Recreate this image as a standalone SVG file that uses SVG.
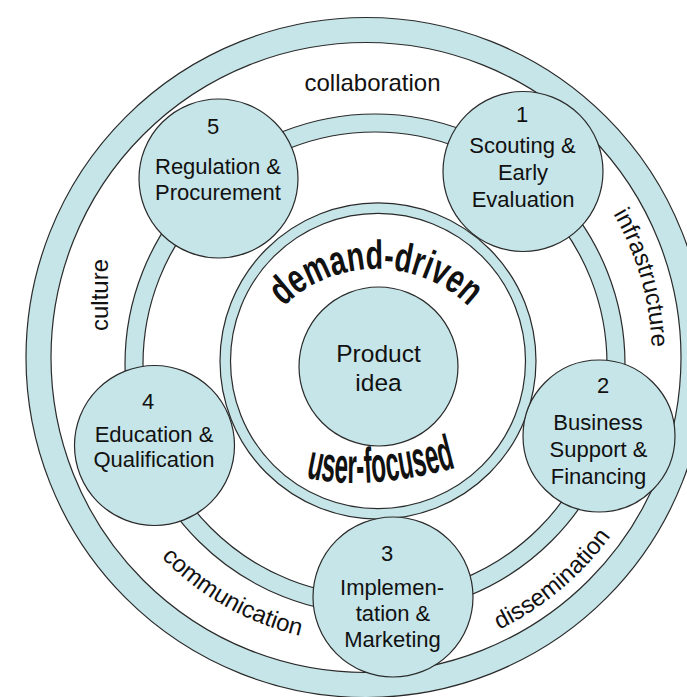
<svg xmlns="http://www.w3.org/2000/svg" width="687" height="697" viewBox="0 0 687 697">
<style>
.ring{fill:#c6e5e8;stroke:#2a2a2a;stroke-width:1.2;fill-rule:evenodd}
.node{fill:#c6e5e8;stroke:#2a2a2a;stroke-width:1.2}
.t{font-family:"Liberation Sans",Arial,sans-serif;fill:#111;text-anchor:middle}
.nl{font-size:22px}
.rl{font-size:24px}
.big{font-weight:bold}
</style>
<defs>
<path id="p-infra" d="M 481.8,96.1 A 286 286 0 0 1 603.4,517.0"/>
<path id="p-diss" d="M 313.4,655.9 A 303 303 0 0 0 669,357.5"/>
<path id="p-comm" d="M 84.8,409.6 A 286 286 0 0 0 466.1,625.4"/>
<path id="p-demand" d="M 243,402 A 133 133 0 0 1 509,402"/>
<path id="p-user" d="M 300,476 Q 362,494 462,466"/>
</defs>
<rect width="687" height="697" fill="#ffffff"/>
<g id="outer-ring">
<path class="ring" d="M 26,357.5 a 340,340 0 1,0 680,0 a 340,340 0 1,0 -680,0 Z M 51,357.5 a 315,315 0 1,0 630,0 a 315,315 0 1,0 -630,0 Z"/>
</g>
<g id="connectors">
<path class="ring" d="M 125,364 a 250,250 0 1,0 500,0 a 250,250 0 1,0 -500,0 Z M 143,364 a 232,232 0 1,0 464,0 a 232,232 0 1,0 -464,0 Z"/>
</g>
<g id="inner-ring">
<path class="ring" d="M 220,361 a 158,158 0 1,0 316,0 a 158,158 0 1,0 -316,0 Z M 230.5,361 a 147.5,147.5 0 1,0 295,0 a 147.5,147.5 0 1,0 -295,0 Z"/>
<text class="t big" font-size="41"><textPath href="#p-demand" startOffset="50%" textLength="205" lengthAdjust="spacingAndGlyphs">demand-driven</textPath></text>
<text class="t big" font-size="50"><textPath href="#p-user" startOffset="50%" textLength="152" lengthAdjust="spacingAndGlyphs">user-focused</textPath></text>
</g>
<g id="labels">
<text class="t rl" x="372.5" y="90.5">collaboration</text>
<text class="t rl" transform="translate(108,295) rotate(-90)">culture</text>
<text class="t rl"><textPath href="#p-infra" startOffset="50%">infrastructure</textPath></text>
<text class="t rl"><textPath href="#p-diss" startOffset="50%">dissemination</textPath></text>
<text class="t rl"><textPath href="#p-comm" startOffset="50%">communication</textPath></text>
</g>
<g id="product-idea">
<circle class="node" cx="378.5" cy="366.5" r="79.5"/>
<text class="t" font-size="24.5" x="378.5" y="362">Product</text>
<text class="t" font-size="24.5" x="378.5" y="391">idea</text>
</g>
<g id="node-1">
<circle class="node" cx="523" cy="171.5" r="80"/>
<text class="t nl" x="522" y="122">1</text>
<text class="t nl" x="522.5" y="153">Scouting &amp;</text>
<text class="t nl" x="523" y="180">Early</text>
<text class="t nl" x="523" y="207">Evaluation</text>
</g>
<g id="node-2">
<circle class="node" cx="599" cy="436" r="76"/>
<text class="t nl" x="603" y="393">2</text>
<text class="t nl" x="598" y="430">Business</text>
<text class="t nl" x="598.5" y="457">Support &amp;</text>
<text class="t nl" x="598.5" y="484">Financing</text>
</g>
<g id="node-3">
<circle class="node" cx="393" cy="597" r="80"/>
<text class="t nl" x="387" y="561">3</text>
<text class="t nl" x="392" y="595">Implemen-</text>
<text class="t nl" x="393" y="621">tation &amp;</text>
<text class="t nl" x="392.5" y="647">Marketing</text>
</g>
<g id="node-4">
<circle class="node" cx="154.5" cy="445.5" r="80"/>
<text class="t nl" x="148" y="409">4</text>
<text class="t nl" x="154" y="442">Education &amp;</text>
<text class="t nl" x="154" y="467">Qualification</text>
</g>
<g id="node-5">
<circle class="node" cx="218.5" cy="178.5" r="79.5"/>
<text class="t nl" x="213" y="134">5</text>
<text class="t nl" x="218" y="174">Regulation &amp;</text>
<text class="t nl" x="218" y="200">Procurement</text>
</g>
</svg>
